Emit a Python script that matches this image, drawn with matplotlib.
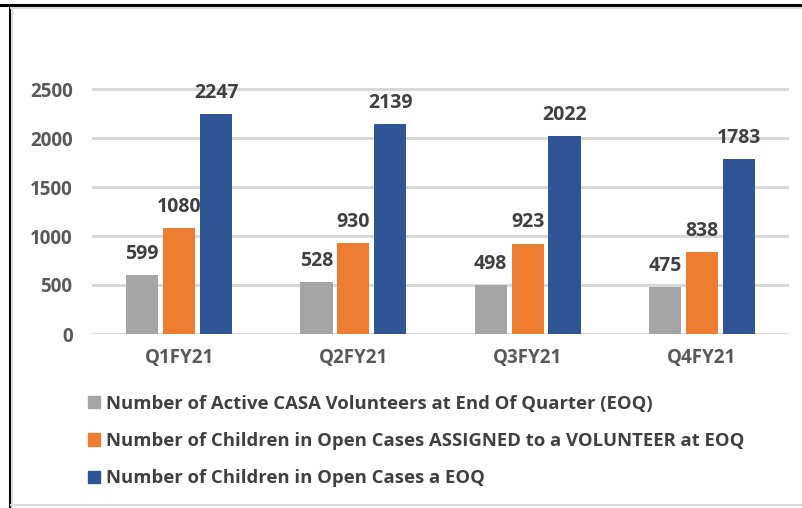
import numpy as np
import matplotlib.pyplot as plt
from matplotlib.lines import Line2D
from matplotlib.patches import Patch

quarters = ['Q1FY21', 'Q2FY21', 'Q3FY21', 'Q4FY21']
volunteers = [599, 528, 498, 475]
assigned = [1080, 930, 923, 838]
open_cases = [2247, 2139, 2022, 1783]

series_names = [
    'Number of Active CASA Volunteers at End Of Quarter (EOQ)',
    'Number of Children in Open Cases ASSIGNED to a VOLUNTEER at EOQ',
    'Number of Children in Open Cases a EOQ',
]
colors = ['#a5a5a5', '#ed7d31', '#2f5597']

plt.rcParams['font.family'] = ['Open Sans', 'DejaVu Sans']

fig = plt.figure(figsize=(8.02, 5.08), dpi=100)
ax = fig.add_axes([92 / 802, 1 - 334 / 508, 697 / 802, 245 / 508 * 2800 / 2500])

x = np.arange(len(quarters))
width = 0.185
step = 0.212
for i, (vals, c) in enumerate(zip([volunteers, assigned, open_cases], colors)):
    bars = ax.bar(x + (i - 1) * step, vals, width, color=c, zorder=3)
    for b, v in zip(bars, vals):
        ax.annotate(str(v), (b.get_x() + b.get_width() / 2, v), xytext=(0, 8),
                    textcoords='offset points', ha='center', va='bottom',
                    fontsize=14, fontweight='bold', color='#404040')

ax.set_xlim(-0.5, 3.5)
ax.set_ylim(0, 2800)
ax.set_yticks([0, 500, 1000, 1500, 2000, 2500])
ax.set_xticks(x)
ax.set_xticklabels(quarters)
ax.grid(axis='y', color='#d9d9d9', linewidth=2.2, zorder=0)
for s in ax.spines.values():
    s.set_visible(False)
ax.tick_params(length=0, labelsize=13.5, labelcolor='#595959', pad=14)
for lab in ax.get_xticklabels() + ax.get_yticklabels():
    lab.set_fontweight('bold')
ax.tick_params(axis='x', pad=10)

handles = [Patch(color=c) for c in colors]
fig.legend(handles, series_names, loc='upper left', bbox_to_anchor=(71 / 802, 1 - 378 / 508),
           frameon=False, handlelength=0.68, handleheight=0.68, handletextpad=0.33,
           labelspacing=1.05, prop={'family': 'Open Sans', 'weight': 'bold', 'size': 13.3},
           labelcolor='#404040')

# outer frame
fig.add_artist(Line2D([0, 1], [1 - 4.5 / 508] * 2, color='black', lw=2.2, transform=fig.transFigure))
fig.add_artist(Line2D([9.5 / 802] * 2, [0, 1 - 4.5 / 508], color='black', lw=2.2, transform=fig.transFigure))
fig.add_artist(Line2D([11 / 802, 1], [1 - 8 / 508] * 2, color='#d9d9d9', lw=1.5, transform=fig.transFigure))
fig.add_artist(Line2D([11.5 / 802] * 2, [0, 1 - 8 / 508], color='#d9d9d9', lw=1.5, transform=fig.transFigure))
fig.add_artist(Line2D([11 / 802, 1], [3 / 508] * 2, color='#d9d9d9', lw=1.5, transform=fig.transFigure))

fig.savefig('out.png', dpi=100)
